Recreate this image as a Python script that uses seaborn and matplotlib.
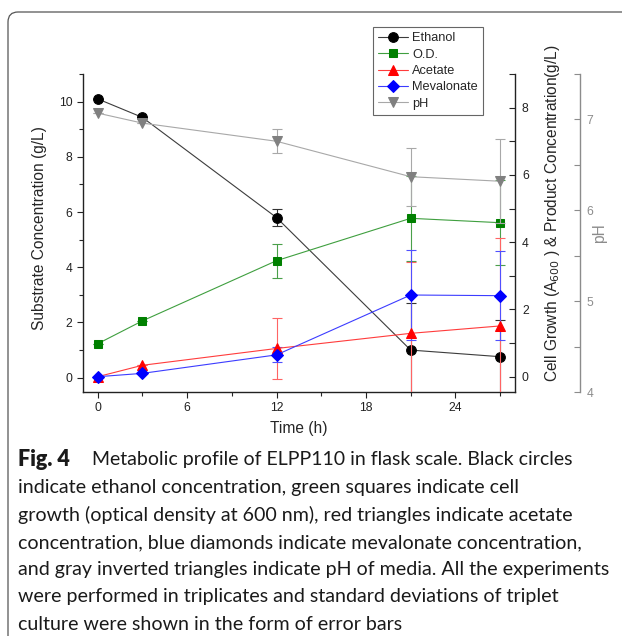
import matplotlib
matplotlib.use("Agg")
import matplotlib.pyplot as plt
import seaborn as sns
import pandas as pd
from matplotlib.patches import FancyBboxPatch
from matplotlib.ticker import MultipleLocator

# ── data ────────────────────────────────────────────────
time_h = [0, 3, 12, 21, 27]

ethanol    = [10.10, 9.43, 5.80, 1.00, 0.76]
ethanol_sd = [0.00, 0.00, 0.31, 1.71, 1.33]

od         = [0.98, 1.66, 3.45, 4.71, 4.58]
od_sd      = [0.00, 0.00, 0.51, 1.27, 1.26]

acetate    = [0.00, 0.34, 0.84, 1.29, 1.51]
acetate_sd = [0.00, 0.00, 0.92, 2.13, 2.61]

mevalonate    = [0.00, 0.10, 0.65, 2.43, 2.41]
mevalonate_sd = [0.00, 0.00, 0.22, 1.34, 1.32]

ph    = [7.07, 6.96, 6.76, 6.37, 6.32]
ph_sd = [0.00, 0.00, 0.13, 0.32, 0.46]

caption_lines = [
    "indicate ethanol concentration, green squares indicate cell",
    "growth (optical density at 600 nm), red triangles indicate acetate",
    "concentration, blue diamonds indicate mevalonate concentration,",
    "and gray inverted triangles indicate pH of media. All the experiments",
    "were performed in triplicates and standard deviations of triplet",
    "culture were shown in the form of error bars",
]

sns.set_theme(style="ticks")
plt.rcParams["font.family"] = ["Liberation Sans", "DejaVu Sans"]

df = pd.DataFrame({"time": time_h, "ethanol": ethanol, "od": od,
                   "acetate": acetate, "mevalonate": mevalonate, "ph": ph})

fig = plt.figure(figsize=(6.22, 6.36), dpi=100)
ax = fig.add_axes([0.133, 0.3836, 0.695, 0.5])
ax2 = ax.twinx()
ax3 = ax.twinx()


def draw(axis, col, sd, mk, ms, mcolor, lcolor, ecolor, label):
    axis.errorbar(df["time"], df[col], yerr=sd, fmt="none", ecolor=ecolor,
                  elinewidth=0.8, capsize=3.3, capthick=0.8, zorder=2)
    sns.lineplot(data=df, x="time", y=col, ax=axis, color=lcolor, lw=0.8,
                 marker=mk, markersize=ms, markerfacecolor=mcolor,
                 markeredgecolor=mcolor, label=label, legend=False, zorder=3)


draw(ax, "ethanol", ethanol_sd, "o", 7, "black", "#3c3c3c", "#333333", "Ethanol")
draw(ax2, "od", od_sd, "s", 6.2, "#008000", "#3f9f3f", "#4aa04a", "O.D.")
draw(ax2, "acetate", acetate_sd, "^", 7.2, "#ff0000", "#ff3c3c", "#ff6464", "Acetate")
draw(ax2, "mevalonate", mevalonate_sd, "D", 6.2, "#0000ff", "#3c3cff", "#5050ff", "Mevalonate")
draw(ax3, "ph", ph_sd, "v", 7.2, "#808080", "#a8a8a8", "#a8a8a8", "pH")

# left axis
ax.set_xlim(-1, 28)
ax.set_ylim(-0.52, 11)
ax.xaxis.set_major_locator(MultipleLocator(6))
ax.xaxis.set_minor_locator(MultipleLocator(3))
ax.yaxis.set_major_locator(MultipleLocator(2))
ax.yaxis.set_minor_locator(MultipleLocator(1))
ax.tick_params(which="major", direction="out", length=4.5, width=0.8,
               labelsize=8.7, colors="#222222", pad=3)
ax.tick_params(which="minor", direction="out", length=3, width=0.8)
ax.set_xlabel("Time (h)", fontsize=11.2, labelpad=5)
ax.set_ylabel("")
fig.text(40 / 622, 1 - 228 / 636, "Substrate Concentration (g/L)", rotation=90,
         ha="center", va="center", fontsize=11.2)
ax.spines["top"].set_visible(False)
ax.spines["right"].set_visible(False)
for s in ("left", "bottom"):
    ax.spines[s].set_linewidth(1.0)
    ax.spines[s].set_color("#222222")

# product axis
ax2.set_ylim(-0.455, 9.0)
ax2.yaxis.set_major_locator(MultipleLocator(2))
ax2.yaxis.set_minor_locator(MultipleLocator(1))
ax2.tick_params(which="major", direction="in", length=4, width=0.8,
                labelsize=8.7, colors="#222222", pad=5)
ax2.tick_params(which="minor", direction="in", length=4, width=0.8)
ax2.set_ylabel("")
for s in ("top", "left", "bottom"):
    ax2.spines[s].set_visible(False)
ax2.spines["right"].set_linewidth(1.0)
ax2.spines["right"].set_color("#222222")
fig.text(552 / 622, 1 - 213 / 636,
         "Cell Growth (A$_{600}$ ) & Product Concentration(g/L)", rotation=90,
         ha="center", va="center", fontsize=11.2)

# pH axis
ax3.set_ylim(4, 7.5)
ax3.spines["right"].set_position(("axes", 1.150))
ax3.yaxis.set_major_locator(MultipleLocator(1))
ax3.yaxis.set_minor_locator(MultipleLocator(0.5))
ax3.tick_params(which="major", direction="in", length=4, width=0.8,
                labelsize=8.7, colors="#8c8c8c", pad=5)
ax3.tick_params(which="minor", direction="in", length=4, width=0.8, colors="#8c8c8c")
ax3.set_ylabel("")
for s in ("top", "left", "bottom"):
    ax3.spines[s].set_visible(False)
ax3.spines["right"].set_linewidth(1.0)
ax3.spines["right"].set_color("#8c8c8c")
fig.text(600 / 622, 1 - 233 / 636, "pH", rotation=90, ha="center", va="center",
         fontsize=11.2, color="#8c8c8c")

# legend collected from the three axes
handles, labels = [], []
for a in (ax, ax2, ax3):
    h, l = a.get_legend_handles_labels()
    handles += h
    labels += l
leg = fig.legend(handles, labels, loc="upper left", bbox_to_anchor=(373 / 622, 1 - 27 / 636),
                 fontsize=9.2, frameon=True, fancybox=False, framealpha=1,
                 edgecolor="#666666", handlelength=2.3, handletextpad=0.35,
                 labelspacing=0.34, borderpad=0.42, borderaxespad=0)
leg.get_frame().set_linewidth(0.8)

# caption box and text
box = FancyBboxPatch((0.08, -0.5), 7.0, 6.74, boxstyle="round,pad=0,rounding_size=0.1",
                     transform=fig.dpi_scale_trans, fill=False, edgecolor="#555555",
                     lw=0.9, clip_on=False)
fig.add_artist(box)

cap_font = ["Lato", "DejaVu Sans"]
fig.text(18 / 622, 1 - 460 / 636, "Fig. 4", fontsize=15.5, fontweight="heavy",
         family=cap_font, va="center", color="#1a1a1a")
fig.text(92 / 622, 1 - 460 / 636, "Metabolic profile of ELPP110 in flask scale. Black circles",
         fontsize=14.0, family=cap_font, va="center", color="#1a1a1a")
for i, line in enumerate(caption_lines):
    fig.text(18 / 622, 1 - (488 + 27.2 * i) / 636, line, fontsize=14.1,
             family=cap_font, va="center", color="#1a1a1a")

fig.savefig("out.png", dpi=100)
